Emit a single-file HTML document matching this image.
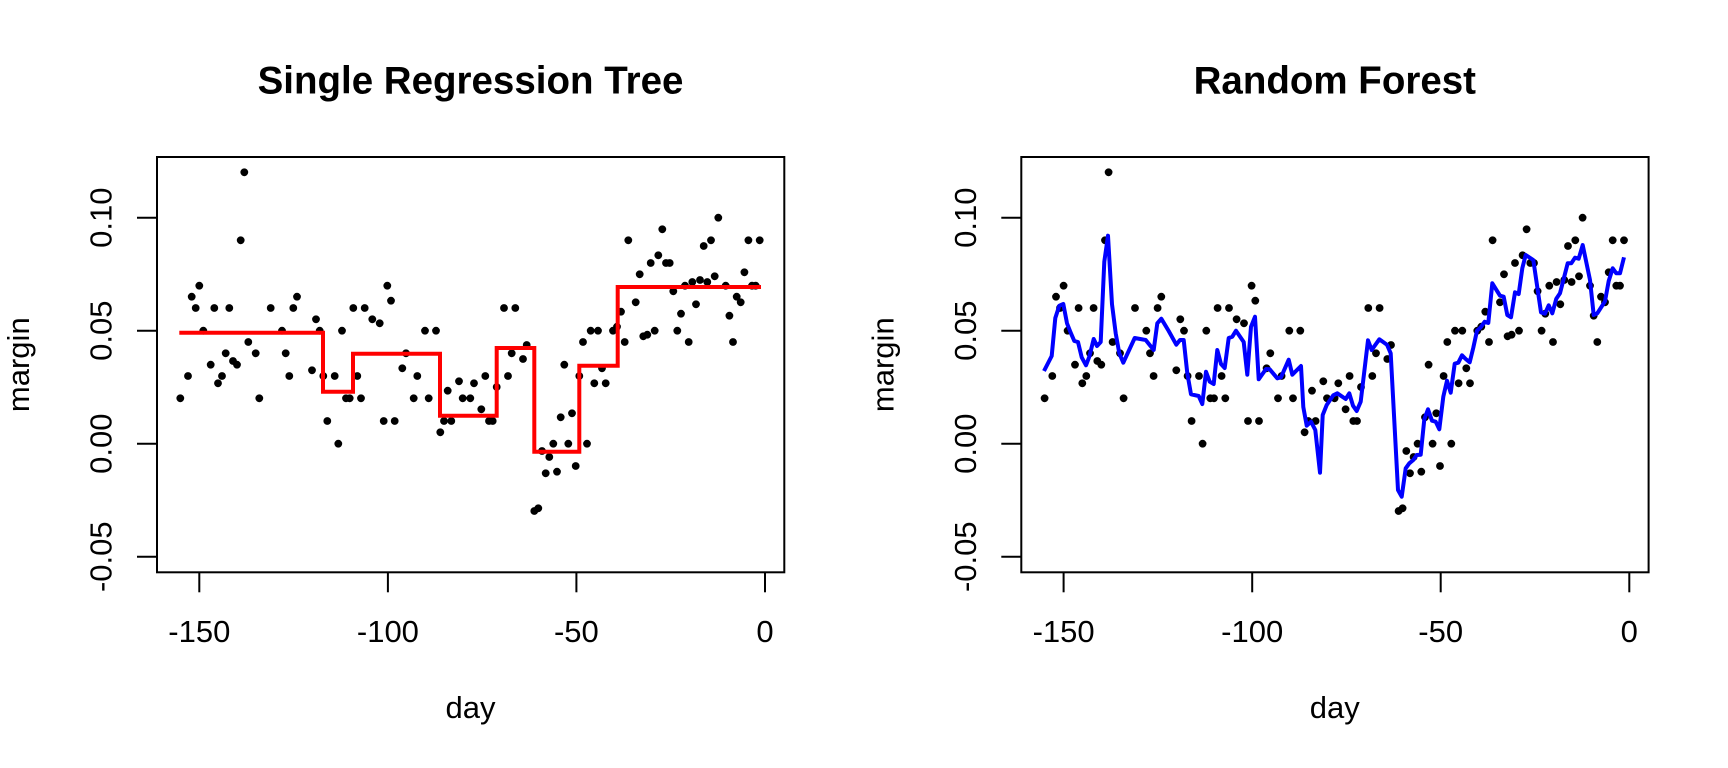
<!DOCTYPE html>
<html><head><meta charset="utf-8"><style>
html,body{margin:0;padding:0;background:#fff;}
svg{display:block;font-family:"Liberation Sans",Arial,sans-serif;}
</style></head><body>
<svg id="s" width="1728" height="768" viewBox="0 0 1728 768" xmlns="http://www.w3.org/2000/svg"></svg>
<script>
var s=document.getElementById('s');var h='';
var z1=[[121,775],[144,708],[155,470],[167,504],[178,437],[190,572],[212,674],[223,504],[234,730],[246,708],[257,640],[268,504],[279,663],[291,674],[302,301],[313,97],[325,606],[347,640],[358,775],[392,504],[426,572],[437,640],[448,708],[460,504],[471,470],[516,691],[528,538],[539,572],[550,708],[562,843],[584,708],[595,911],[606,572],[618,775],[629,775],[640,504],[652,708],[663,775],[674,504],[697,538],[719,550],[731,843],[742,437],[753,482],[764,843],[787,685],[798,640],[821,775],[832,708],[855,572],[866,775]];
var z2=[[48,572],[61,877],[72,843],[83,752],[94,843],[117,724],[128,775],[151,775],[162,730],[184,808],[196,708],[207,843],[218,843],[230,741],[252,504],[264,708],[275,640],[286,504],[309,657],[320,615],[343,1113],[355,1105],[366,933],[377,1000],[388,951],[400,911],[411,995],[422,832],[433,674],[445,911],[456,820],[467,978],[478,708],[489,606],[501,911],[512,572],[523,730],[534,572],[546,685],[557,730],[579,572],[591,560],[603,515],[614,606],[625,301],[647,487],[659,403],[670,589],[682,584],[692,369],[704,572],[715,346],[727,268],[738,369],[749,369],[760,454],[772,572],[783,521],[795,437],[806,606],[817,426],[828,493],[840,420],[851,318],[862,426],[873,301],[884,409],[895,233]];
var z5=[[810,437],[821,527],[832,606],[843,470],[855,487],[866,397],[878,301],[889,437],[900,437],[912,301]];
var OFF=864.3;
var pts=[];
z1.forEach(function(p){pts.push([140+p[0]/3,140+p[1]/3]);});
z2.forEach(function(p){pts.push([420+p[0]/3,140+p[1]/3]);});
z5.forEach(function(p){pts.push([1320+p[0]/3-OFF,140+p[1]/3]);});
function panel(ox,title){
  var L=157+ox,R=784.3+ox,T=157,B=572.3;
  h+='<rect x="'+L+'" y="'+T+'" width="'+(R-L)+'" height="'+(B-T)+'" fill="none" stroke="#000" stroke-width="2"/>';
  var xt=[[-150,199.3],[-100,387.9],[-50,576.4],[0,765]];
  xt.forEach(function(t){var x=t[1]+ox;h+='<line x1="'+x+'" y1="'+B+'" x2="'+x+'" y2="'+(B+20)+'" stroke="#000" stroke-width="2"/>';
    h+='<text x="'+x+'" y="642" font-size="31" text-anchor="middle">'+t[0]+'</text>';});
  var yt=[["0.10",217.7],["0.05",330.7],["0.00",443.7],["-0.05",556.7]];
  yt.forEach(function(t){h+='<line x1="'+L+'" y1="'+t[1]+'" x2="'+(L-20)+'" y2="'+t[1]+'" stroke="#000" stroke-width="2"/>';
    h+='<text transform="translate('+(111.5+ox)+','+t[1]+') rotate(-90)" font-size="31" text-anchor="middle">'+t[0]+'</text>';});
  h+='<text x="'+(470.5+ox)+'" y="718" font-size="31" text-anchor="middle">day</text>';
  h+='<text transform="translate('+(29+ox)+',364.7) rotate(-90)" font-size="31" text-anchor="middle">margin</text>';
  h+='<text x="'+(470.5+ox)+'" y="93.5" font-size="38.5" font-weight="bold" text-anchor="middle">'+title+'</text>';
  pts.forEach(function(p){h+='<circle cx="'+(p[0]+ox).toFixed(1)+'" cy="'+p[1].toFixed(1)+'" r="3.9" fill="#000"/>';});
}
panel(0,"Single Regression Tree");
panel(OFF,"Random Forest");
var st=[[179.3,332.7],[323,332.7],[323,391.7],[353,391.7],[353,353.7],[440,353.7],[440,415.7],[496.7,415.7],[496.7,348],[534.3,348],[534.3,451.7],[579.3,451.7],[579.3,365.7],[617.7,365.7],[617.7,287],[761,287]];
h+='<polyline points="'+st.map(function(p){return p.join(',');}).join(' ')+'" fill="none" stroke="#ff0000" stroke-width="4"/>';
var b4=[[132,693],[155,648],[166,534],[178,497],[190,492],[201,550],[212,578],[223,603],[234,606],[245,652],[258,676],[268,650],[281,597],[291,618],[302,606],[313,365],[324,287],[336,493],[347,580],[358,640],[370,668],[404,594],[437,600],[461,630],[472,550],[484,536],[506,573],[529,614],[540,600],[551,600],[562,700],[573,763],[596,768],[607,792],[618,695],[629,725],[641,732],[652,630],[663,672],[674,684],[686,594],[697,590],[708,572],[731,606],[742,704],[753,560],[765,530],[776,718],[798,687],[809,688],[832,715],[843,712],[866,659],[877,704],[903,678],[910,801],[920,857],[933,845],[946,870]];
var b5=[[0,998],[8,825],[20,795],[40,766],[52,760],[77,777],[88,760],[99,797],[110,813],[122,785],[144,601],[155,630],[178,598],[201,614],[212,640],[234,1050],[245,1070],[257,985],[268,970],[280,960],[290,945],[302,944],[313,838],[324,808],[336,842],[347,845],[358,868],[370,770],[381,722],[392,758],[404,671],[415,668],[426,646],[437,657],[449,667],[460,623],[471,572],[482,562],[494,545],[505,549],[517,430],[540,467],[551,470],[562,525],[573,532],[585,457],[596,462],[607,385],[617,345],[640,360],[663,517],[675,521],[686,496],[697,520],[709,476],[720,460],[743,370],[754,370],[765,353],[776,356],[788,315],[810,420],[821,525],[832,520],[855,484],[866,423],[878,385],[889,400],[900,400],[912,352]];
var bl=[];
b4.forEach(function(p){bl.push((1000+p[0]/3).toFixed(1)+','+(140+p[1]/3).toFixed(1));});
b5.forEach(function(p){bl.push((1320+p[0]/3).toFixed(1)+','+(140+p[1]/3).toFixed(1));});
h+='<polyline points="'+bl.join(' ')+'" fill="none" stroke="#0000ff" stroke-width="4" stroke-linejoin="round"/>';
s.innerHTML=h;
</script>
</body></html>
